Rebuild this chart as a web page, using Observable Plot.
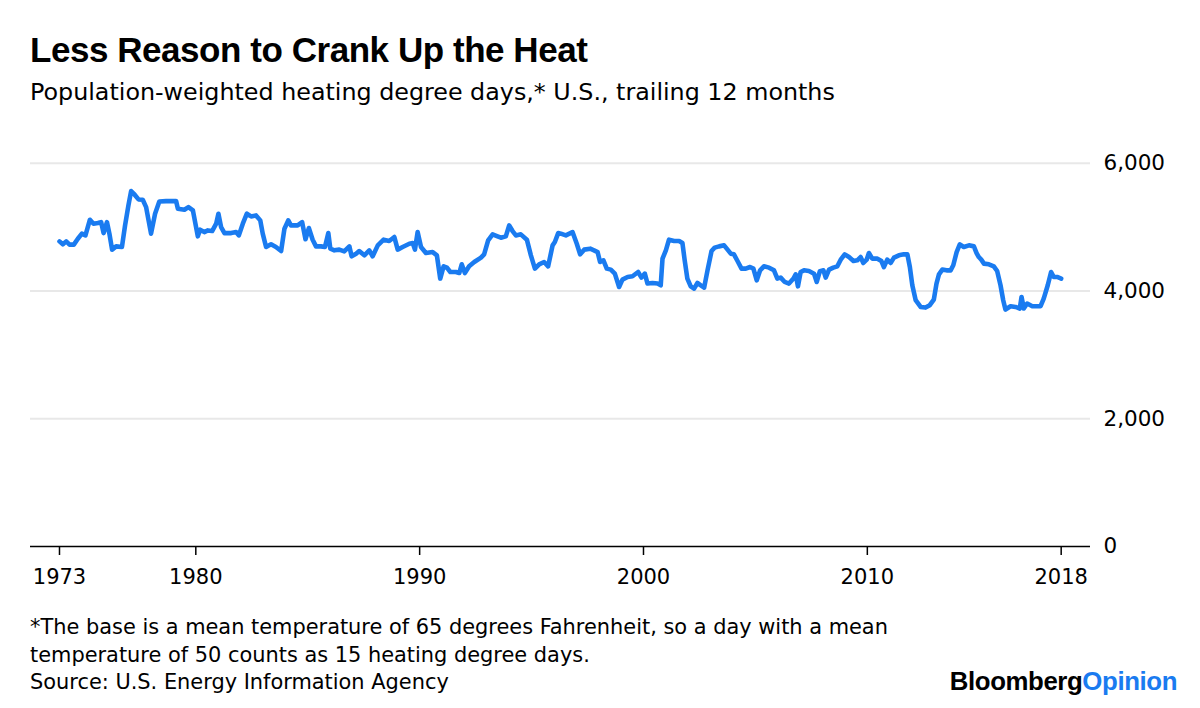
<!DOCTYPE html>
<html>
<head>
<meta charset="utf-8">
<script src="https://cdn.jsdelivr.net/npm/d3@7"></script>
<script src="https://cdn.jsdelivr.net/npm/@observablehq/plot@0.6"></script>
<style>
  html, body { margin: 0; padding: 0; background: #fff; }
  body { font-family: "DejaVu Sans", "Liberation Sans", Arial, sans-serif; color: #000; }
  #wrap { position: relative; width: 1200px; height: 708px; overflow: hidden; }
  #title { position: absolute; left: 30px; top: 32px; font-family: "Liberation Sans", Arial, sans-serif; font-size: 35px; line-height: 35px; font-weight: bold; letter-spacing: -0.45px; white-space: nowrap; }
  #subtitle { position: absolute; left: 30px; top: 81px; font-size: 23.8px; line-height: 23.8px; white-space: nowrap; }
  #chart { position: absolute; left: 0; top: 120px; }
  #note { position: absolute; left: 30px; top: 614px; font-size: 20.9px; line-height: 27.5px; white-space: nowrap; }
  #logo { position: absolute; right: 23px; top: 669px; font-family: "Liberation Sans", Arial, sans-serif; font-size: 25.8px; line-height: 25.8px; font-weight: bold; letter-spacing: -0.4px; white-space: nowrap; }
  #logo span { color: #1a7bf0; }
</style>
</head>
<body>
<div id="wrap">
  <div id="title">Less Reason to Crank Up the Heat</div>
  <div id="subtitle">Population-weighted heating degree days,* U.S., trailing 12 months</div>
  <div id="chart"></div>
  <div id="note">*The base is a mean temperature of 65 degrees Fahrenheit, so a day with a mean<br>temperature of 50 counts as 15 heating degree days.<br>Source: U.S. Energy Information Agency</div>
  <div id="logo">Bloomberg<span>Opinion</span></div>
</div>
<script>
// Decimal years (trailing 12-month readings) and heating degree days
const years = [
  1973.91, 1974.06, 1974.21, 1974.36, 1974.55, 1974.73, 1974.91, 1975.07, 1975.27, 1975.43,
  1975.63, 1975.77, 1975.88, 1976.03, 1976.14, 1976.26, 1976.44, 1976.70, 1976.84, 1976.99,
  1977.11, 1977.26, 1977.44, 1977.63, 1977.78, 1978.00, 1978.18, 1978.37, 1978.67, 1978.97,
  1979.12, 1979.20, 1979.49, 1979.67, 1979.87, 1980.09, 1980.19, 1980.38, 1980.54, 1980.73,
  1980.91, 1981.01, 1981.13, 1981.28, 1981.58, 1981.80, 1981.92, 1982.10, 1982.28, 1982.47,
  1982.69, 1982.88, 1982.99, 1983.14, 1983.36, 1983.58, 1983.81, 1983.96, 1984.13, 1984.25,
  1984.55, 1984.75, 1984.90, 1985.05, 1985.22, 1985.37, 1985.59, 1985.77, 1985.92, 1986.01,
  1986.19, 1986.41, 1986.63, 1986.86, 1986.96, 1987.16, 1987.30, 1987.53, 1987.75, 1987.90,
  1988.13, 1988.39, 1988.64, 1988.87, 1989.02, 1989.24, 1989.54, 1989.69, 1989.79, 1989.91,
  1990.06, 1990.28, 1990.58, 1990.77, 1990.92, 1991.07, 1991.22, 1991.37, 1991.62, 1991.77,
  1991.88, 1992.02, 1992.21, 1992.44, 1992.74, 1992.88, 1993.06, 1993.26, 1993.48, 1993.63,
  1993.85, 1994.00, 1994.15, 1994.30, 1994.52, 1994.79, 1994.97, 1995.15, 1995.34, 1995.56,
  1995.74, 1995.94, 1996.04, 1996.19, 1996.31, 1996.53, 1996.83, 1997.02, 1997.17, 1997.35,
  1997.62, 1997.79, 1997.95, 1998.06, 1998.21, 1998.36, 1998.54, 1998.72, 1998.91, 1999.06,
  1999.29, 1999.51, 1999.76, 1999.91, 2000.06, 2000.18, 2000.40, 2000.63, 2000.77, 2000.85,
  2001.00, 2001.14, 2001.37, 2001.59, 2001.74, 2001.84, 2001.96, 2002.11, 2002.26, 2002.41,
  2002.56, 2002.71, 2002.86, 2003.04, 2003.18, 2003.38, 2003.60, 2003.72, 2003.90, 2004.04,
  2004.20, 2004.38, 2004.57, 2004.76, 2004.91, 2005.06, 2005.21, 2005.38, 2005.61, 2005.83,
  2005.98, 2006.13, 2006.31, 2006.50, 2006.70, 2006.80, 2006.90, 2007.02, 2007.17, 2007.39,
  2007.62, 2007.74, 2007.88, 2008.04, 2008.14, 2008.29, 2008.48, 2008.66, 2008.81, 2008.99,
  2009.18, 2009.38, 2009.55, 2009.70, 2009.82, 2009.97, 2010.07, 2010.22, 2010.45, 2010.63,
  2010.74, 2010.89, 2011.04, 2011.19, 2011.41, 2011.63, 2011.79, 2011.90, 2012.01, 2012.16,
  2012.38, 2012.60, 2012.79, 2012.97, 2013.09, 2013.20, 2013.35, 2013.54, 2013.72, 2013.84,
  2013.99, 2014.13, 2014.31, 2014.54, 2014.76, 2014.88, 2014.98, 2015.09, 2015.21, 2015.43,
  2015.65, 2015.80, 2015.95, 2016.07, 2016.17, 2016.40, 2016.62, 2016.81, 2016.89, 2016.99,
  2017.14, 2017.37, 2017.59, 2017.74, 2017.88, 2018.06, 2018.21, 2018.33, 2018.48, 2018.66
];
const heatingDegreeDays = [
  4776, 4730, 4776, 4725, 4725, 4818, 4897, 4870, 5115, 5053,
  5063, 5078, 4906, 5078, 4897, 4647, 4698, 4688, 5027, 5339,
  5563, 5511, 5433, 5428, 5313, 4897, 5209, 5401, 5406, 5406,
  5406, 5287, 5272, 5313, 5261, 4855, 4959, 4922, 4948, 4938,
  5053, 5209, 5000, 4906, 4906, 4922, 4870, 5053, 5209, 5167,
  5183, 5105, 4897, 4688, 4730, 4688, 4625, 4975, 5105, 5027,
  5027, 5078, 4810, 4985, 4803, 4698, 4698, 4688, 4906, 4662,
  4636, 4647, 4620, 4698, 4542, 4584, 4625, 4558, 4636, 4542,
  4714, 4803, 4782, 4844, 4647, 4688, 4740, 4750, 4647, 4922,
  4688, 4594, 4609, 4558, 4194, 4386, 4365, 4297, 4297, 4281,
  4417, 4281, 4386, 4453, 4522, 4573, 4792, 4886, 4855, 4834,
  4855, 5027, 4938, 4870, 4886, 4803, 4558, 4350, 4417, 4453,
  4386, 4714, 4766, 4906, 4897, 4870, 4922, 4740, 4573, 4647,
  4662, 4636, 4609, 4453, 4480, 4350, 4334, 4272, 4063, 4178,
  4219, 4230, 4297, 4209, 4272, 4116, 4125, 4116, 4089, 4506,
  4636, 4803, 4782, 4782, 4750, 4480, 4194, 4073, 4037, 4125,
  4089, 4053, 4323, 4625, 4678, 4698, 4714, 4662, 4584, 4573,
  4469, 4350, 4350, 4375, 4350, 4167, 4323, 4386, 4365, 4323,
  4194, 4209, 4141, 4116, 4194, 4261, 4073, 4297, 4323, 4313,
  4270, 4141, 4310, 4323, 4209, 4334, 4365, 4386, 4490, 4573,
  4531, 4469, 4480, 4531, 4438, 4490, 4594, 4506, 4506, 4469,
  4375, 4490, 4438, 4522, 4558, 4573, 4573, 4375, 4089, 3855,
  3750, 3740, 3777, 3865, 4116, 4261, 4334, 4323, 4323, 4402,
  4609, 4730, 4688, 4714, 4698, 4594, 4531, 4490, 4428, 4417,
  4386, 4313, 4089, 3855, 3709, 3761, 3750, 3725, 3906, 3725,
  3803, 3761, 3761, 3761, 3881, 4089, 4297, 4219, 4219, 4194
];
// Axis ticks: first and last readings are labelled by their year
const xTickValues = [1973.91, 1980, 1990, 2000, 2010, 2018.66];
const xTickLabels = ["1973", "1980", "1990", "2000", "2010", "2018"];
const yTickValues = [0, 2000, 4000, 6000];

const data = years.map((year, i) => ({year, value: heatingDegreeDays[i]}));
const xLabelMap = new Map(xTickValues.map((v, i) => [v, xTickLabels[i]]));

const chart = Plot.plot({
  width: 1200,
  height: 480,
  marginTop: 42.7,
  marginBottom: 54,
  marginLeft: 30,
  marginRight: 110,
  x: {domain: [1972.615, 2019.97], label: null},
  y: {domain: [0, 6000], label: null},
  style: {fontFamily: "'DejaVu Sans', 'Liberation Sans', Arial, sans-serif", fontSize: "21px", color: "#000", background: "#fff", overflow: "visible"},
  marks: [
    Plot.gridY(yTickValues.filter(d => d > 0), {stroke: "#e8e8e8", strokeOpacity: 1, strokeWidth: 2}),
    Plot.ruleY([0], {stroke: "#000", strokeWidth: 1.5}),
    Plot.axisX({ticks: xTickValues, tickSize: 9, tickPadding: 14, tickFormat: d => xLabelMap.get(d), strokeWidth: 1.5, fontSize: 21, label: null}),
    Plot.axisY({ticks: yTickValues, anchor: "right", tickSize: 0, tickPadding: 13, tickFormat: d3.format(","), fontSize: 21.5, label: null}),
    Plot.line(data, {x: "year", y: "value", stroke: "#1a7bf0", strokeWidth: 4.6, strokeLinejoin: "round", strokeLinecap: "round"})
  ]
});
document.getElementById("chart").appendChild(chart);
</script>
</body>
</html>
